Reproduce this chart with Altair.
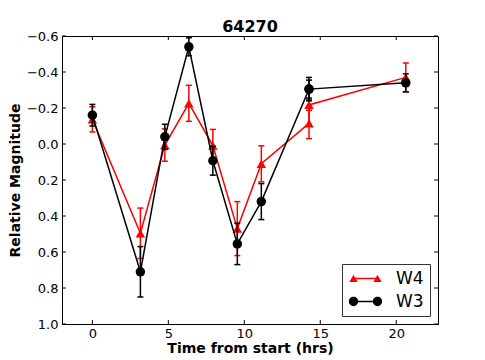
import altair as alt
import pandas as pd

# ---- data ----
w4_x = [0, 3.16, 4.77, 6.35, 7.93, 9.54, 11.12, 14.26, 14.26, 20.63]
w4_y = [-0.137, 0.496, 0.006, -0.226, 0.009, 0.47, 0.11, -0.115, -0.217, -0.37]
w4_err = [0.07, 0.14, 0.09, 0.10, 0.09, 0.15, 0.10, 0.085, 0.03, 0.08]

w3_x = [0, 3.16, 4.77, 6.35, 7.93, 9.54, 11.12, 14.26, 14.26, 20.63]
w3_y = [-0.16, 0.71, -0.04, -0.54, 0.093, 0.555, 0.32, -0.305, -0.305, -0.34]
w3_err = [0.06, 0.14, 0.07, 0.05, 0.08, 0.115, 0.10, 0.065, 0.05, 0.05]

series_names = ["W4", "W3"]
series_colors = ["red", "black"]
x_ticks = [0, 5, 10, 15, 20]
y_ticks = [-0.6, -0.4, -0.2, 0.0, 0.2, 0.4, 0.6, 0.8, 1.0]

W, H = 376, 288

def frame(xs, ys, es, name):
    return pd.DataFrame({
        "x": xs, "y": ys,
        "lo": [a - b for a, b in zip(ys, es)],
        "hi": [a + b for a, b in zip(ys, es)],
        "idx": list(range(len(xs))),
        "series": name,
    })

df4 = frame(w4_x, w4_y, w4_err, "W4")
df3 = frame(w3_x, w3_y, w3_err, "W3")

xscale = alt.Scale(domain=[-2, 22.75], nice=False, zero=False)
yscale = alt.Scale(domain=[-0.6, 1.0], reverse=True, nice=False, zero=False)

xaxis = alt.Axis(values=x_ticks, ticks=False, grid=False, domain=False, labelOverlap=False,
                 title="Time from start (hrs)", labelPadding=3, titlePadding=1)
yaxis = alt.Axis(values=y_ticks, format=".1f", ticks=False, grid=False, domain=False,
                 labelOverlap=False, labelBound=False, tickCount=9,
                 title="Relative Magnitude", labelPadding=4, titlePadding=4)


def xenc(field):
    return alt.X(field, scale=xscale, axis=xaxis)


def yenc(field):
    return alt.Y(field, scale=yscale, axis=yaxis)


def series_layers(df, color, shape):
    base = alt.Chart(df)
    line = base.mark_line(color=color, strokeWidth=1.5).encode(
        x=xenc("x:Q"), y=yenc("y:Q"), order="idx:O")
    bars = base.mark_rule(color=color, strokeWidth=1.5).encode(
        x=xenc("x:Q"), y=yenc("lo:Q"), y2="hi:Q")
    cap_lo = base.mark_tick(color=color, orient="horizontal", size=6, thickness=1.5,
                            opacity=1).encode(x=xenc("x:Q"), y=yenc("lo:Q"))
    cap_hi = base.mark_tick(color=color, orient="horizontal", size=6, thickness=1.5,
                            opacity=1).encode(x=xenc("x:Q"), y=yenc("hi:Q"))
    pts = base.mark_point(shape=shape, filled=True, size=90, color=color,
                          opacity=1, strokeWidth=0).encode(x=xenc("x:Q"), y=yenc("y:Q"))
    return [line, bars, cap_lo, cap_hi, pts]

# legend symbols: line with a marker at each end
path_w4 = ("M-1.6,-0.1L1.6,-0.1L1.6,0.1L-1.6,0.1Z "
           "M-2.15,0.45L-1.6,-0.5L-1.05,0.45Z "
           "M1.05,0.45L1.6,-0.5L2.15,0.45Z")
path_w3 = ("M-0.98,-0.1L0.98,-0.1L0.98,0.1L-0.98,0.1Z "
           "M-0.98,0A0.62,0.62 0 1,0 -2.22,0A0.62,0.62 0 1,0 -0.98,0Z "
           "M2.22,0A0.62,0.62 0 1,0 0.98,0A0.62,0.62 0 1,0 2.22,0Z")

leg = alt.Legend(title=None, orient="bottom-right", offset=8, padding=6,
                 strokeColor="#333333", fillColor="white", symbolSize=225,
                 symbolStrokeWidth=0, symbolOpacity=1, symbolOffset=9,
                 labelOffset=22, labelFontSize=17, labelFont="DejaVu Sans",
                 labelColor="black", rowPadding=5, cornerRadius=0)

legend_layer = alt.Chart(pd.concat([df4, df3])).transform_filter("false").mark_point(
    filled=True, opacity=1, size=225).encode(
    x=xenc("x:Q"), y=yenc("y:Q"),
    color=alt.Color("series:N", scale=alt.Scale(domain=series_names, range=series_colors), legend=leg),
    shape=alt.Shape("series:N", scale=alt.Scale(domain=series_names, range=[path_w4, path_w3]), legend=leg),
)

# inward tick marks on all four sides
xt = pd.DataFrame({"x": x_ticks})
yt = pd.DataFrame({"y": y_ticks})
tick_style = dict(color="black", strokeWidth=1)
t_bottom = alt.Chart(xt).mark_rule(**tick_style).encode(x=xenc("x:Q"), y=alt.value(H), y2=alt.value(H - 4))
t_top = alt.Chart(xt).mark_rule(**tick_style).encode(x=xenc("x:Q"), y=alt.value(0), y2=alt.value(4))
t_left = alt.Chart(yt).mark_rule(**tick_style).encode(y=yenc("y:Q"), x=alt.value(0), x2=alt.value(4))
t_right = alt.Chart(yt).mark_rule(**tick_style).encode(y=yenc("y:Q"), x=alt.value(W), x2=alt.value(W - 4))

layers = (series_layers(df4, "red", "triangle-up") + series_layers(df3, "black", "circle")
          + [legend_layer, t_bottom, t_top, t_left, t_right])

chart = alt.layer(*layers).properties(
    width=W, height=H,
    title=alt.Title("64270", fontSize=16, fontWeight="bold", font="DejaVu Sans",
                    color="black", offset=-5, anchor="middle"),
    padding={"left": 0, "top": 11, "right": 5, "bottom": 0},
).configure_view(stroke="black", strokeWidth=1).configure_axis(
    labelFont="DejaVu Sans", titleFont="DejaVu Sans", labelFontSize=13,
    titleFontSize=14, titleFontWeight="bold", labelColor="black", titleColor="black",
).configure_axisY(labelOverlap=False)

chart.save("out.html", embed_options={"renderer": "svg", "actions": False})
